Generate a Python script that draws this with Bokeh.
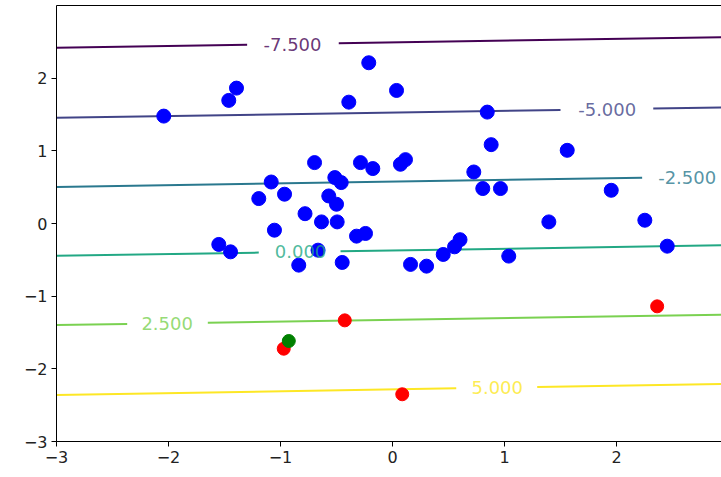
import math
from bokeh.plotting import figure
from bokeh.models import LinearAxis, FixedTicker, Range1d
from bokeh.embed import file_html
from bokeh.resources import INLINE
from bokeh.core.properties import value

# ---- contour levels (lines: y at x=-3 and at x=3) ----
levels = [-7.5, -5.0, -2.5, 0.0, 2.5, 5.0]
level_labels = ["-7.500", "-5.000", "-2.500", "0.000", "2.500", "5.000"]
level_y_at_left = [2.418, 1.456, 0.503, -0.445, -1.397, -2.359]
level_y_at_right = [2.566, 1.598, 0.648, -0.298, -1.253, -2.207]
level_colors = ["#440154", "#414487", "#2a788e", "#22a884", "#7ad151", "#fde725"]
# inline label positions and the gaps cut in the lines for them
label_x = [-0.893, 1.917, 2.631, -0.821, -2.012, 0.935]
gap_start = [-1.298, 1.500, 2.229, -1.194, -2.369, 0.569]
gap_end = [-0.480, 2.328, 3.100, -0.464, -1.649, 1.292]

# ---- scatter points ----
blue_x = [-2.042, -1.462, -1.393, -0.390, -0.212, 0.036, 0.846, 0.881, 1.560,
          -0.696, -0.286, -0.176, 0.071, 0.116, 0.726, -1.083, -0.515, -0.458,
          0.806, 0.964, 1.953, -1.194, -0.964, -0.569, -0.500, -0.781, -0.634,
          -0.494, 1.396, 2.253, -1.054, -0.321, -0.241, -1.551, -1.446, -0.665,
          0.603, 0.554, 0.453, 2.453, 1.038, -0.837, -0.449, 0.161, 0.304]
blue_y = [1.478, 1.694, 1.863, 1.670, 2.212, 1.831, 1.533, 1.085, 1.007,
          0.838, 0.838, 0.756, 0.815, 0.879, 0.709, 0.571, 0.632, 0.563,
          0.481, 0.481, 0.457, 0.343, 0.403, 0.379, 0.265, 0.135, 0.022,
          0.022, 0.022, 0.045, -0.092, -0.174, -0.137, -0.288, -0.390, -0.367,
          -0.223, -0.321, -0.426, -0.312, -0.449, -0.573, -0.536, -0.563, -0.587]
red_x = [-0.971, -0.426, 0.087, 2.363]
red_y = [-1.723, -1.333, -2.350, -1.140]
green_x = [-0.926]
green_y = [-1.617]

x_ticks = [-3, -2, -1, 0, 1, 2]
y_ticks = [-3, -2, -1, 0, 1, 2]

X0, X1 = -3.0, 3.0

p = figure(width=721, height=477,
           x_range=Range1d(-3, 2.9375), y_range=Range1d(-3, 3),
           output_backend="svg", toolbar_location=None,
           min_border_left=56, min_border_right=0,
           min_border_top=5, min_border_bottom=36)
p.outline_line_color = None
p.grid.visible = False
p.background_fill_color = "white"
p.border_fill_color = "white"


def line_y(i, x):
    return level_y_at_left[i] + (level_y_at_right[i] - level_y_at_left[i]) * (x - X0) / (X1 - X0)


# contour lines with gaps for labels
for i in range(len(levels)):
    xs = [[X0, gap_start[i]]]
    if gap_end[i] < X1:
        xs.append([gap_end[i], X1])
    ys = [[line_y(i, a) for a in seg] for seg in xs]
    p.multi_line(xs, ys, line_color=level_colors[i], line_width=2)

p.scatter(blue_x, blue_y, size=14, fill_color="blue", line_color="blue")
p.scatter(red_x, red_y, size=13, fill_color="red", line_color="red")
p.scatter(green_x, green_y, size=13, fill_color="green", line_color="green")

# contour labels
for i in range(len(levels)):
    p.text([label_x[i]], [line_y(i, label_x[i])], text=[level_labels[i]],
           text_color=level_colors[i], text_alpha=0.8, text_font=value("DejaVu Sans"),
           text_font_size="18px", text_align="center", text_baseline="middle")

minus = lambda v: ("\u2212" + str(abs(v))) if v < 0 else str(v)

for ax, ticks in ((p.xaxis[0], x_ticks), (p.yaxis[0], y_ticks)):
    ax.ticker = FixedTicker(ticks=ticks)
    ax.major_label_overrides = {t: minus(t) for t in ticks}
    ax.minor_tick_line_color = None
    ax.major_tick_in = 0
    ax.major_tick_out = 5
    ax.axis_line_color = "black"
    ax.axis_line_width = 1
    ax.major_tick_line_color = "black"
    ax.major_label_text_font = "DejaVu Sans"
    ax.major_label_text_font_size = "16px"
    ax.major_label_text_color = "#222222"
    ax.major_label_standoff = 4

top = LinearAxis(ticker=FixedTicker(ticks=[]), major_tick_in=0, major_tick_out=0,
                 minor_tick_in=0, minor_tick_out=0, major_label_text_font_size="0px",
                 major_label_standoff=0, axis_line_color="black", axis_line_width=1)
p.add_layout(top, "above")

open("out.html", "w").write(file_html(p, INLINE))
